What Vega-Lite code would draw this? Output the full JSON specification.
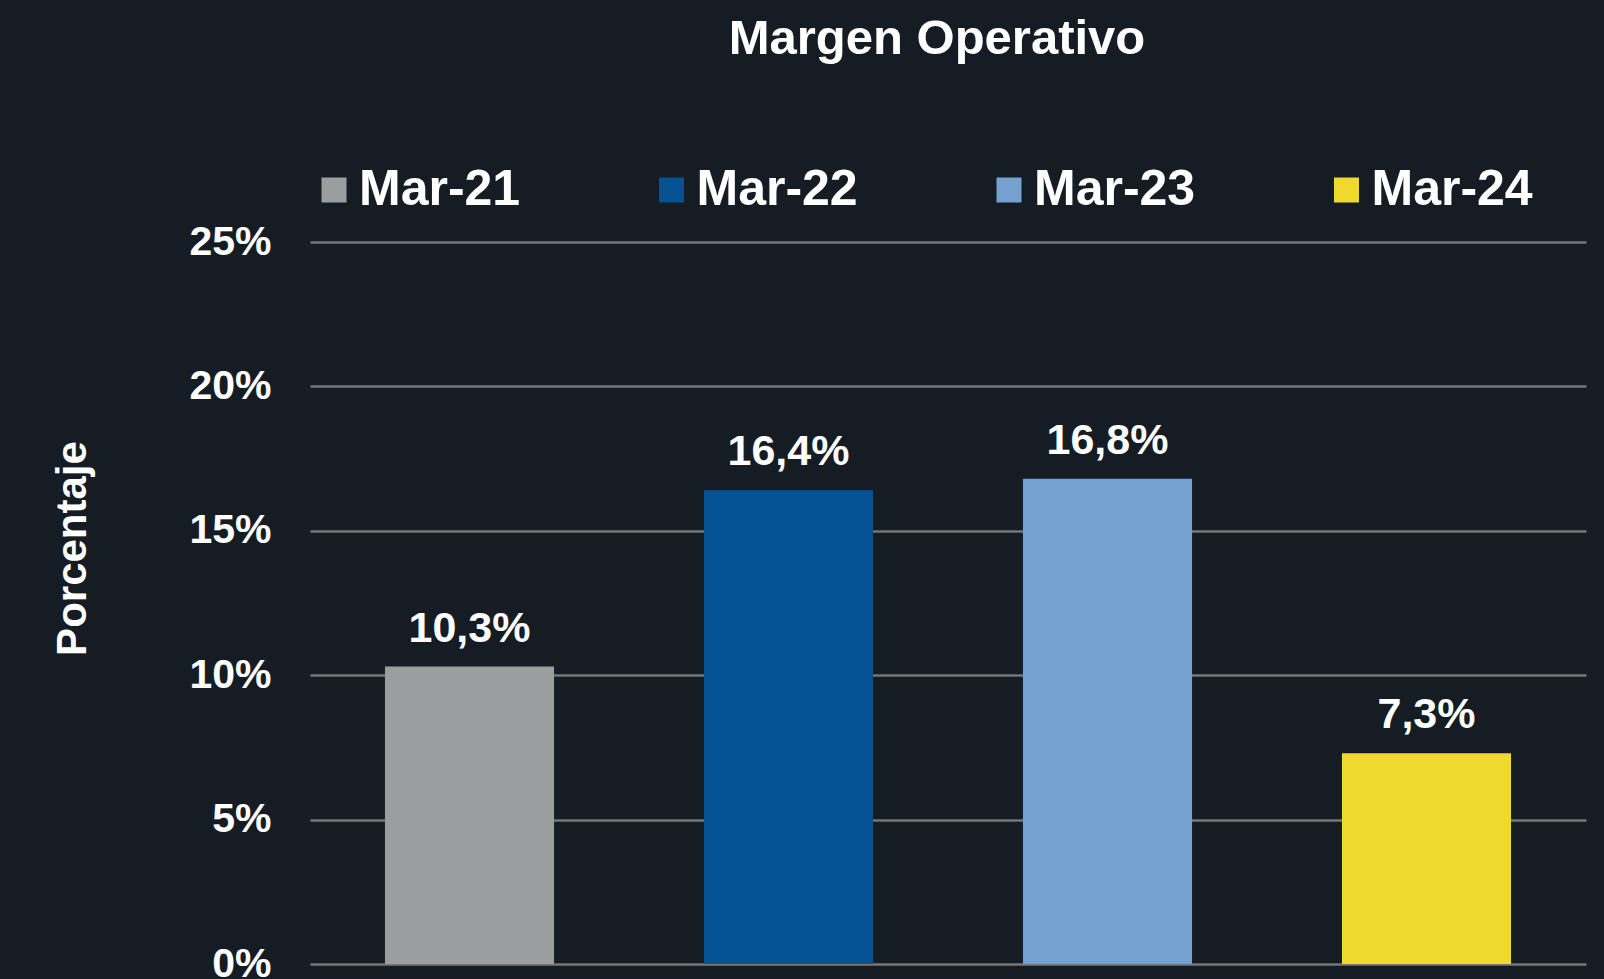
{
  "$schema": "https://vega.github.io/schema/vega-lite/v6.json",
  "width": 1276,
  "height": 722,
  "autosize": {"type": "none"},
  "padding": {"left": 310, "top": 242, "right": 18, "bottom": 15},
  "background": "#151c23",
  "title": {
    "text": "Margen Operativo",
    "fontSize": 49,
    "font": "Liberation Sans",
    "fontWeight": "bold",
    "color": "white",
    "anchor": "middle",
    "dx": -11,
    "offset": 101
  },
  "data": {
    "values": [
      {"periodo": "Mar-21", "margen": 0.103},
      {"periodo": "Mar-22", "margen": 0.164},
      {"periodo": "Mar-23", "margen": 0.168},
      {"periodo": "Mar-24", "margen": 0.073}
    ]
  },
  "encoding": {
    "x": {
      "field": "periodo",
      "type": "nominal",
      "sort": null,
      "scale": {"paddingInner": 0.47, "paddingOuter": 0.235},
      "axis": null
    },
    "y": {
      "field": "margen",
      "type": "quantitative",
      "scale": {"domain": [0, 0.25], "nice": false},
      "axis": {
        "values": [0, 0.05, 0.1, 0.15, 0.2, 0.25],
        "format": ".0%",
        "title": "Porcentaje",
        "titleFont": "Liberation Sans",
        "titleFontSize": 42,
        "titleFontWeight": "bold",
        "titleColor": "white",
        "titleAngle": -90,
        "titleX": -238,
        "titleY": 306,
        "titleAlign": "center",
        "titleBaseline": "middle",
        "labelFont": "Liberation Sans",
        "labelFontSize": 41,
        "labelFontWeight": "bold",
        "labelColor": "white",
        "labelPadding": 39,
        "ticks": false,
        "domain": false,
        "grid": true,
        "gridColor": "#767676",
        "gridWidth": 2.5
      }
    }
  },
  "layer": [
    {
      "mark": {"type": "bar"},
      "encoding": {
        "color": {
          "field": "periodo",
          "type": "nominal",
          "sort": null,
          "scale": {
            "domain": ["Mar-21", "Mar-22", "Mar-23", "Mar-24"],
            "range": ["#9a9e9f", "#045294", "#75a1d0", "#f0d92f"]
          },
          "legend": {
            "orient": "none",
            "legendX": -1,
            "legendY": -77,
            "direction": "horizontal",
            "title": null,
            "symbolType": "square",
            "symbolSize": 625,
            "symbolStrokeWidth": 0,
            "symbolOpacity": 1,
            "labelFont": "Liberation Sans",
            "labelFontSize": 50,
            "labelFontWeight": "bold",
            "labelColor": "white",
            "labelOffset": 0,
            "labelLimit": 400,
            "columnPadding": 125.5
          }
        }
      }
    },
    {
      "mark": {
        "type": "text",
        "dy": -25,
        "baseline": "alphabetic",
        "font": "Liberation Sans",
        "fontSize": 43,
        "fontWeight": "bold",
        "color": "white"
      },
      "encoding": {
        "text": {"field": "margen", "type": "quantitative", "format": ".1%"}
      }
    }
  ],
  "config": {
    "locale": {
      "number": {"decimal": ",", "thousands": ".", "grouping": [3], "currency": ["", " €"]}
    },
    "view": {"stroke": null}
  }
}
